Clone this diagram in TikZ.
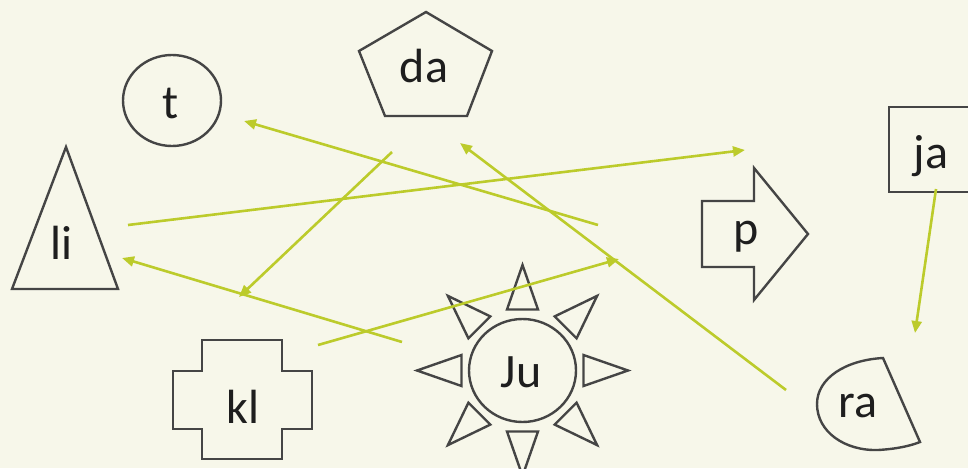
\documentclass[tikz,border=0pt]{standalone}
\usepackage{fontspec}
\setmainfont{Carlito}
\usetikzlibrary{arrows.meta}

\definecolor{paper}{HTML}{F7F7EA}
\definecolor{outline}{HTML}{454545}
\definecolor{ink}{HTML}{1E1E1E}
\definecolor{link}{HTML}{BCCB2B}

\tikzset{
  shapeline/.style={draw=outline, line width=2.4pt, line join=miter},
  lbl/.style={anchor=base, inner sep=0pt, text=ink, font=\fontsize{48}{56}\selectfont},
  link/.style={draw=link, line width=2.6pt, -{Triangle[length=12pt,width=10pt]}},
}

\begin{document}
\begin{tikzpicture}[x=1pt,y=-1pt]
  \useasboundingbox (0,0) rectangle (968,468);
  \fill[paper] (0,0) rectangle (968,468);
  \clip (0,0) rectangle (968,468);

  % ---- shapes ----
  % t : ellipse
  \draw[shapeline] (172,100.5) ellipse [x radius=49, y radius=45.5];
  % da : pentagon
  \draw[shapeline] (426,12) -- (492,51) -- (467,116) -- (385,116) -- (359,51) -- cycle;
  % li : triangle
  \draw[shapeline] (66,147) -- (118,289) -- (12,289) -- cycle;
  % kl : cross
  \draw[shapeline] (202,340) -- (282,340) -- (282,371) -- (312,371) -- (312,429)
        -- (282,429) -- (282,459) -- (202,459) -- (202,429) -- (173,429)
        -- (173,371) -- (202,371) -- cycle;
  % Ju : sun
  \draw[shapeline] (522.5,370.5) ellipse [x radius=53.5, y radius=51.5];
  \foreach \a in {0,45,...,315}
    \draw[shapeline, shift={(522.5,370.5)}, rotate=\a]
      (61,-15.5) -- (105.5,0) -- (61,15.5) -- cycle;
  % p : arrow
  \draw[shapeline] (702,201) -- (754,201) -- (754,168) -- (808,234) -- (754,300)
        -- (754,267) -- (702,267) -- cycle;
  % ja : rectangle
  \draw[shapeline] (889,107) rectangle (990,192);
  % ra : cut ellipse
  \draw[shapeline] (883,358) .. controls (846,360) and (817,378) .. (817,404)
        .. controls (817,432) and (845,451) .. (878,450)
        .. controls (896,449) and (910,446) .. (920,442) -- cycle;

  % ---- labels ----
  \node[lbl] (t)  at (171,118) {t};
  \node[lbl] (da) at (424,83)  {da};
  \node[lbl] (li) at (62,259)  {li};
  \node[lbl] (kl) at (243,423) {kl};
  \node[lbl] (Ju) at (521,387) {Ju};
  \node[lbl] (p)  at (746,244) {p};
  \node[lbl] (ja) at (931,168) {ja};
  \node[lbl] (ra) at (858,417) {ra};

  % ---- connector ends ----
  \coordinate (liOut) at (128,225);
  \coordinate (pIn)   at (745,150);
  \coordinate (pOut)  at (598,225);
  \coordinate (tIn)   at (244,121);
  \coordinate (daOut) at (392,152);
  \coordinate (klIn)  at (239,297);
  \coordinate (JuOut) at (402,342);
  \coordinate (liIn)  at (122,258);
  \coordinate (klOut) at (318,345);
  \coordinate (pIn2)  at (619,259);
  \coordinate (raOut) at (786,390);
  \coordinate (daIn)  at (460,143);
  \coordinate (jaOut) at (936,189);
  \coordinate (raIn)  at (915,333);

  % ---- connectors ----
  \draw[link] (liOut) -- (pIn);
  \draw[link] (pOut) -- (tIn);
  \draw[link] (daOut) -- (klIn);
  \draw[link] (JuOut) -- (liIn);
  \draw[link] (klOut) -- (pIn2);
  \draw[link] (raOut) -- (daIn);
  \draw[link] (jaOut) -- (raIn);
\end{tikzpicture}
\end{document}
